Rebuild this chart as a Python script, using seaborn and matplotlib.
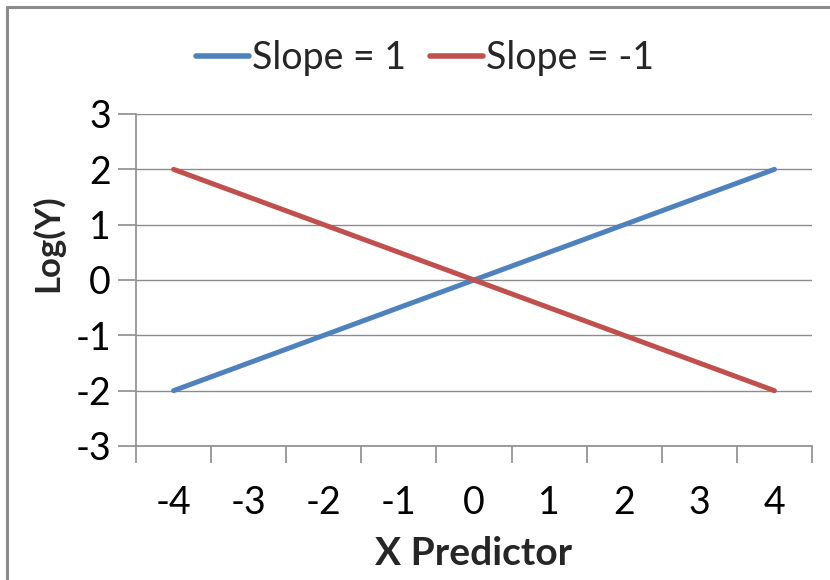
import matplotlib
matplotlib.use("Agg")
import matplotlib.pyplot as plt
import seaborn as sns
import pandas as pd
from matplotlib.lines import Line2D
from matplotlib.ticker import FixedLocator

x_values = [-4, -3, -2, -1, 0, 1, 2, 3, 4]
slope_pos = [-2, -1.5, -1, -0.5, 0, 0.5, 1, 1.5, 2]
slope_neg = [2, 1.5, 1, 0.5, 0, -0.5, -1, -1.5, -2]
series_names = ["Slope = 1", "Slope = -1"]
y_ticks = [-3, -2, -1, 0, 1, 2, 3]

sns.set_theme(style="white")
plt.rcParams['font.family'] = ['Lato', 'DejaVu Sans']

df = pd.DataFrame({
    "x": x_values * 2,
    "y": slope_pos + slope_neg,
    "series": [series_names[0]] * len(x_values) + [series_names[1]] * len(x_values),
})

W, H = 830, 580
fig = plt.figure(figsize=(8.3, 5.8), dpi=100)
ax = fig.add_axes([136 / W, 1 - 446 / H, (812 - 136) / W, (446 - 114) / H])

sns.lineplot(data=df, x="x", y="y", hue="series", hue_order=series_names,
             palette=["#4F81BD", "#C0504D"], linewidth=3.6, ax=ax,
             legend=True)
for ln in ax.lines:
    ln.set_solid_capstyle("round")

ax.set_xlim(-4.5, 4.5)
ax.set_ylim(-3, 3)
ax.set_yticks(y_ticks)
ax.set_yticklabels([str(v) for v in y_ticks])
ax.set_xticks(x_values)
ax.set_xticklabels([str(v) for v in x_values])
ax.xaxis.set_minor_locator(FixedLocator([v + 0.5 for v in [-5] + x_values]))

ax.grid(axis="y", color="#8c8c8c", linewidth=1.0)
ax.set_axisbelow(True)
for s in ["top", "right"]:
    ax.spines[s].set_visible(False)
for s in ["left", "bottom"]:
    ax.spines[s].set_color("#8c8c8c")
    ax.spines[s].set_linewidth(1.2)

ax.tick_params(axis="x", which="major", length=0, pad=28, labelsize=27, colors="black")
ax.tick_params(axis="x", which="minor", length=12, width=1.2, color="#8c8c8c", direction="out", bottom=True)
ax.tick_params(axis="y", which="major", length=13, width=1.2, color="#8c8c8c", direction="out",
               left=True, pad=5, labelsize=27, labelcolor="black")

ax.set_xlabel("X Predictor", fontsize=28, fontweight="bold")
ax.set_ylabel("Log(Y)", fontsize=25, fontweight="bold")
ax.xaxis.set_label_coords(0.5, -0.27)
ax.yaxis.set_label_coords((48 - 136) / (812 - 136), (446 - 243) / (446 - 114))
ax.yaxis.label.set_verticalalignment("center")
ax.yaxis.label.set_horizontalalignment("center")

handles, labels = ax.get_legend_handles_labels()
ax.get_legend().remove()
for h in handles:
    h.set_linewidth(4)
fig.legend(handles, labels, loc="center", bbox_to_anchor=(425 / W, 1 - 58 / H),
           ncol=2, frameon=False, fontsize=27, handlelength=1.4, handletextpad=0.08,
           columnspacing=0.65)

fig.add_artist(Line2D([6.5 / W, 1], [1 - 7 / H, 1 - 7 / H], transform=fig.transFigure,
                      color="#8c8c8c", linewidth=2.2))
fig.add_artist(Line2D([7 / W, 7 / W], [0, 1 - 6.5 / H], transform=fig.transFigure,
                      color="#8c8c8c", linewidth=2.2))

fig.savefig("out.png", dpi=100)
